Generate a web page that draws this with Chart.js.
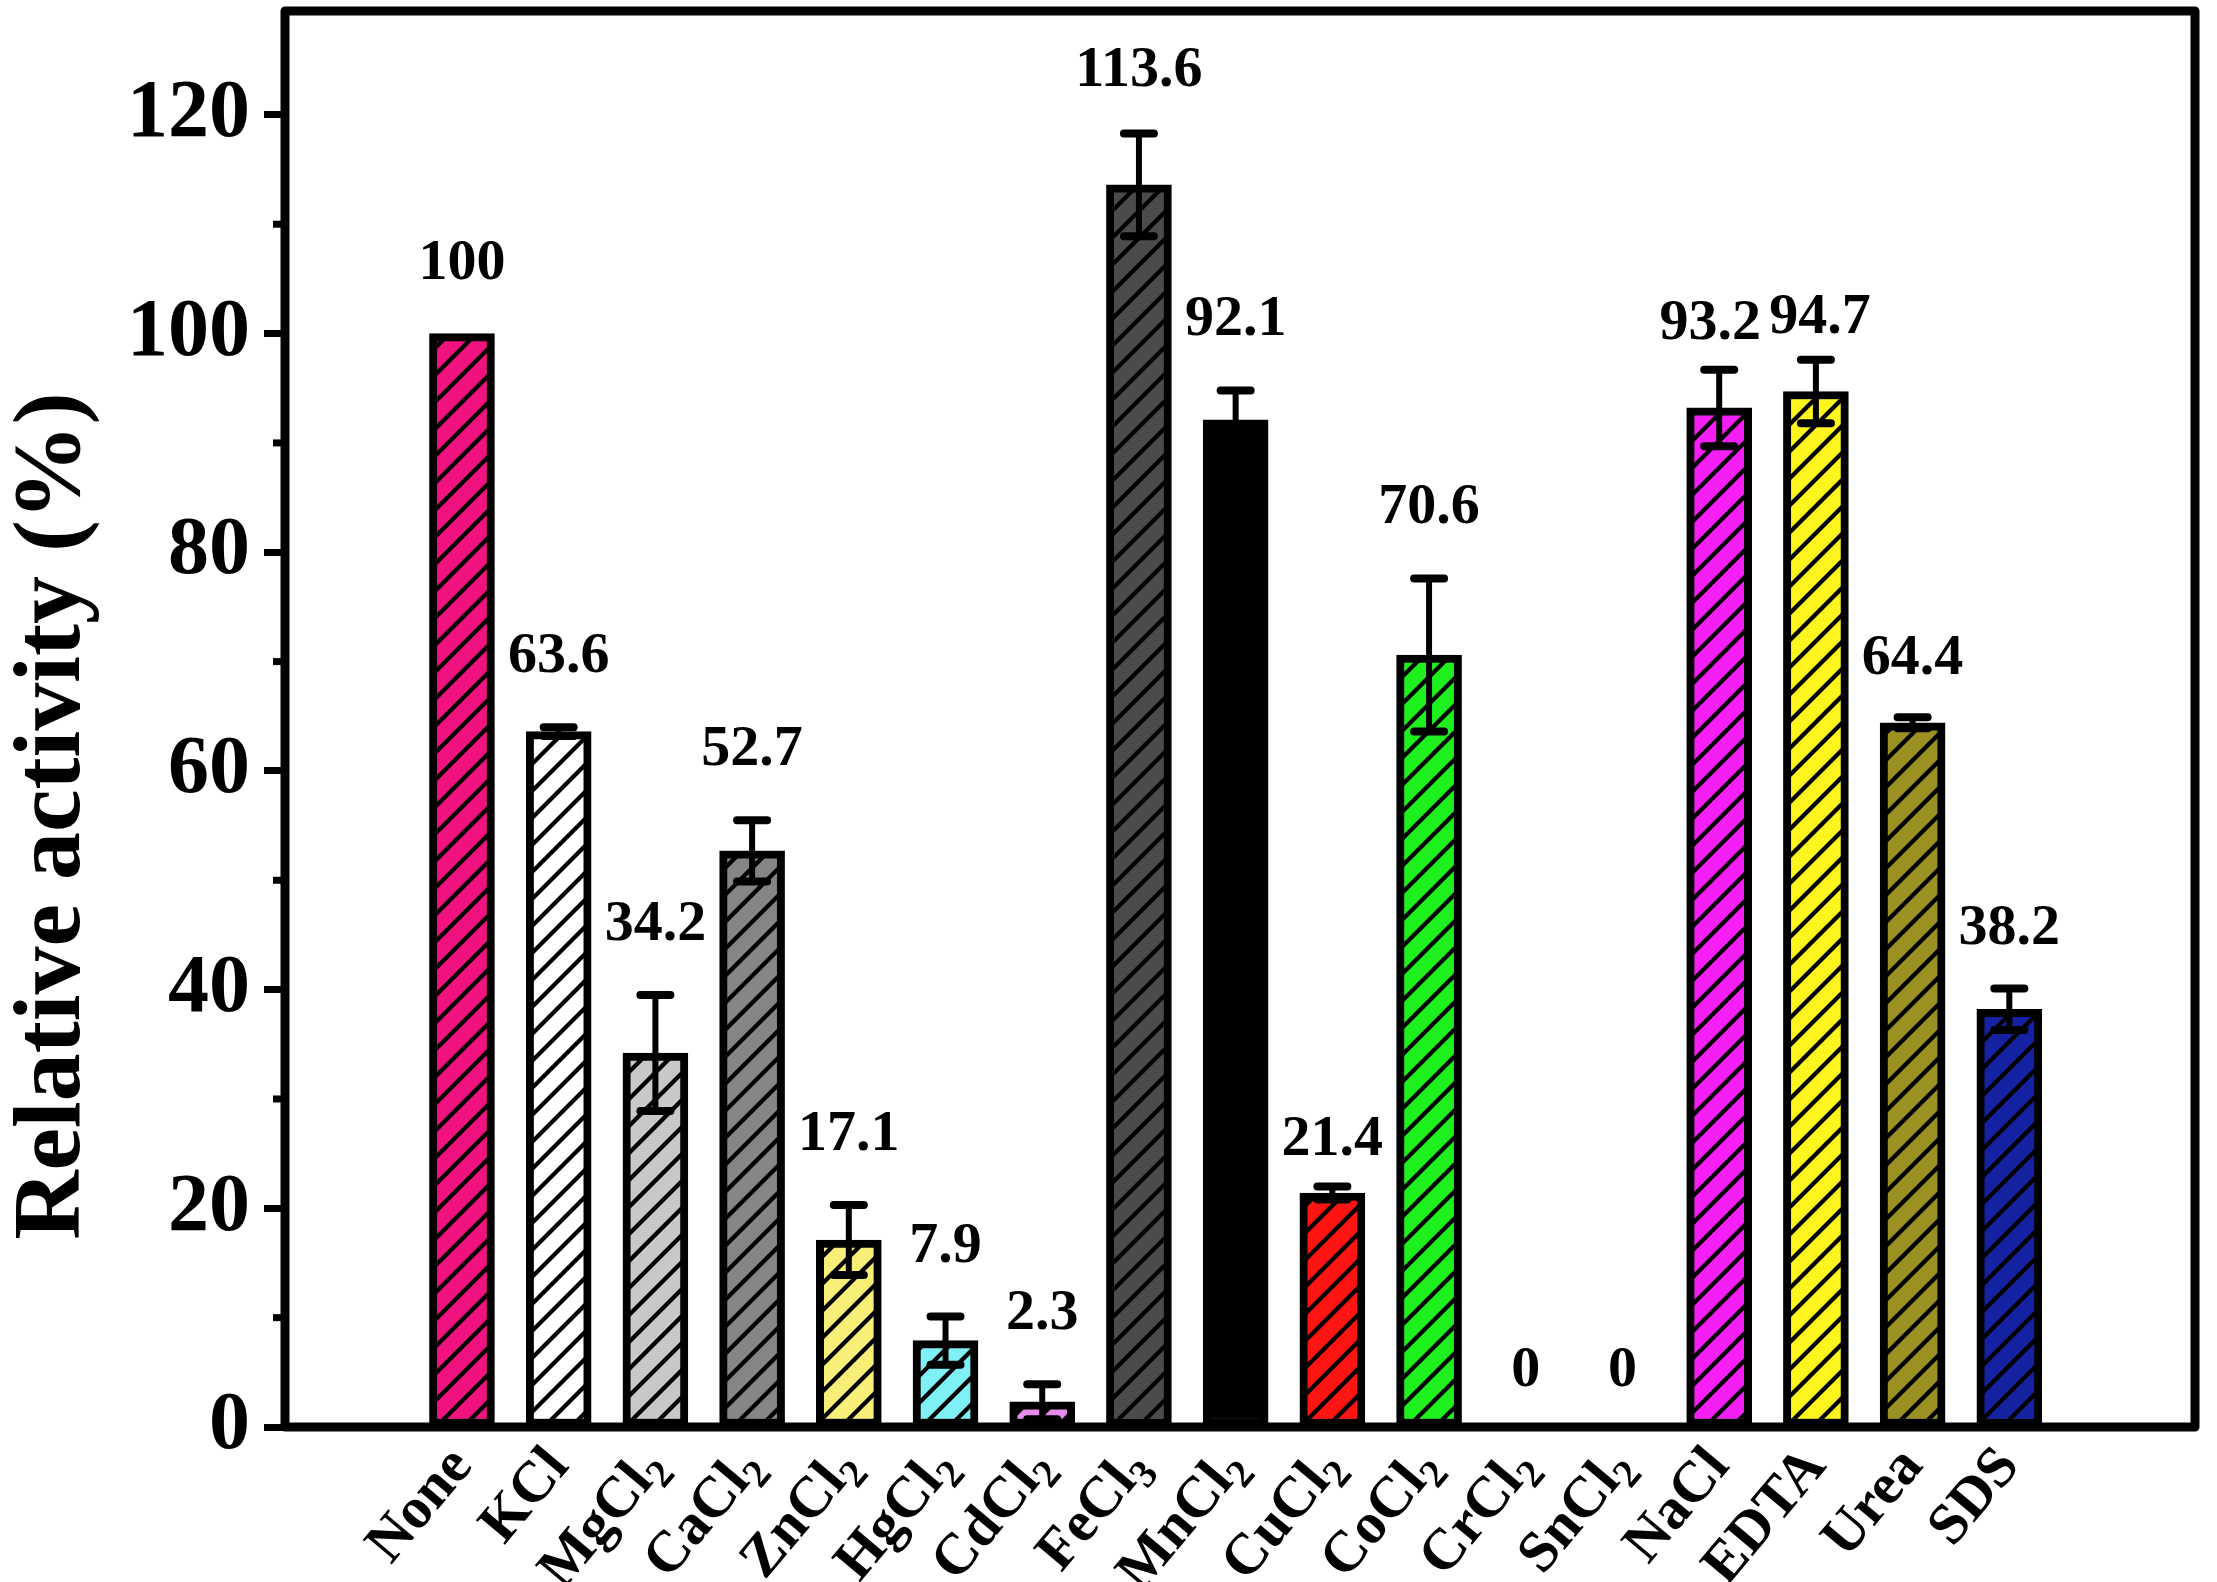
<!DOCTYPE html>
<html>
<head>
<meta charset="utf-8">
<script src="https://cdn.jsdelivr.net/npm/chart.js@4.4.1/dist/chart.umd.min.js"></script>
<style>
html,body{margin:0;padding:0;background:#fff;}
#wrap{width:2217px;height:1582px;}
</style>
</head>
<body>
<div id="wrap"><canvas id="c" width="2217" height="1582"></canvas></div>
<script>
const categories = ['None','KCl','MgCl2','CaCl2','ZnCl2','HgCl2','CdCl2','FeCl3','MnCl2','CuCl2','CoCl2','CrCl2','SnCl2','NaCl','EDTA','Urea','SDS'];
const values = [100, 63.6, 34.2, 52.7, 17.1, 7.9, 2.3, 113.6, 92.1, 21.4, 70.6, 0, 0, 93.2, 94.7, 64.4, 38.2];
const errors = [0, 0.4, 5.3, 2.8, 3.2, 2.2, 1.6, 4.7, 2.7, 0.6, 7.0, 0, 0, 3.5, 2.9, 0.5, 1.9];
const colors = ['#F0127E','#FFFFFF','#C8C8C8','#858585','#F8EF78','#7FF0F5','#E58CEB','#4B4B4B','#000000','#FF1414','#1EF01E','#FFFFFF','#FFFFFF','#F51EF5','#FFF51E','#9B9123','#1421A0'];
const hatched = [true,true,true,true,true,true,true,true,false,true,true,true,true,true,true,true,true];
const yTickValues = [0, 20, 40, 60, 80, 100, 120];
const yMinorValues = [10, 30, 50, 70, 90, 110];
const yTitle = 'Relative activity (%)';

// layout-only tweaks for hand-placed value labels in the original (pixels)
const labelNudge = { NaCl: [-9, 24], EDTA: [4, 28], CuCl2: [0, 24], CrCl2: [0, 14], SnCl2: [0, 14], FeCl3: [0, 8], Urea: [0, 12], SDS: [0, 10] };

const SERIF = '"Liberation Serif", "Times New Roman", serif';

function makePattern(color) {
  const W = 27, H = 27;
  const c = document.createElement('canvas');
  c.width = W; c.height = H;
  const g = c.getContext('2d');
  g.fillStyle = color;
  g.fillRect(0, 0, W, H);
  g.strokeStyle = '#000';
  g.lineWidth = 4.2;
  for (let k = -1; k <= 1; k++) {
    g.beginPath();
    g.moveTo(-2, H + 2 * H / W + k * H);
    g.lineTo(W + 2, -2 * H / W + k * H);
    g.stroke();
  }
  return g.createPattern(c, 'repeat');
}

const fills = colors.map((col, i) => hatched[i] ? makePattern(col) : col);

const decorPlugin = {
  id: 'decor',
  afterDatasetsDraw(chart) {
    const ctx = chart.ctx;
    const xs = chart.scales.x, ys = chart.scales.y;
    const area = chart.chartArea;
    ctx.save();
    // error bars
    ctx.strokeStyle = '#000';
    ctx.lineCap = 'round';
    values.forEach((v, i) => {
      const e = errors[i];
      if (!e) return;
      const x = xs.getPixelForValue(i);
      const yt = ys.getPixelForValue(v + e);
      const yb = ys.getPixelForValue(v - e);
      ctx.lineWidth = 6;
      ctx.beginPath();
      ctx.moveTo(x, yt); ctx.lineTo(x, yb);
      ctx.stroke();
      ctx.lineWidth = 8;
      ctx.beginPath();
      ctx.moveTo(x - 15, yt); ctx.lineTo(x + 15, yt);
      ctx.moveTo(x - 15, yb); ctx.lineTo(x + 15, yb);
      ctx.stroke();
    });
    // frame
    ctx.lineCap = 'butt';
    ctx.lineJoin = 'round';
    ctx.lineWidth = 9;
    ctx.strokeRect(area.left, area.top, area.right - area.left, area.bottom - area.top);
    // minor ticks
    ctx.lineWidth = 7;
    yMinorValues.forEach(v => {
      const y = ys.getPixelForValue(v);
      ctx.beginPath();
      ctx.moveTo(area.left - 12, y); ctx.lineTo(area.left, y);
      ctx.stroke();
    });
    // value labels
    ctx.fillStyle = '#000';
    ctx.font = 'bold 58px ' + SERIF;
    ctx.textAlign = 'center';
    ctx.textBaseline = 'middle';
    values.forEach((v, i) => {
      const nd = labelNudge[categories[i]] || [0, 0];
      const x = xs.getPixelForValue(i) + nd[0];
      const y = ys.getPixelForValue(v + errors[i]) - 70 + nd[1];
      ctx.fillText(String(v), x, y);
    });
    // category labels (rotated, with subscripts)
    const mainFont = 'bold 58px ' + SERIF;
    const subFont = 'bold 40px ' + SERIF;
    categories.forEach((cat, i) => {
      const m = cat.match(/^(.*?)(\d)$/);
      const main = m ? m[1] : cat;
      const sub = m ? m[2] : '';
      const x = xs.getPixelForValue(i) - 2;
      const y = area.bottom + 28;
      ctx.save();
      ctx.translate(x, y);
      ctx.rotate(-50 * Math.PI / 180);
      ctx.textAlign = 'left';
      ctx.textBaseline = 'alphabetic';
      ctx.font = subFont;
      const ws = sub ? ctx.measureText(sub).width : 0;
      ctx.font = mainFont;
      const wm = ctx.measureText(main).width;
      const total = wm + ws;
      ctx.fillText(main, -total, 18);
      if (sub) {
        ctx.font = subFont;
        ctx.fillText(sub, -ws, 30);
      }
      ctx.restore();
    });
    // y title
    ctx.save();
    ctx.translate(54, 816);
    ctx.rotate(-Math.PI / 2);
    ctx.font = 'bold 96px ' + SERIF;
    ctx.textAlign = 'center';
    ctx.textBaseline = 'middle';
    ctx.fillText(yTitle, 0, 0);
    ctx.restore();
    ctx.restore();
  }
};

new Chart(document.getElementById('c'), {
  type: 'bar',
  data: {
    datasets: [{
      data: categories.map((c, i) => ({ x: i, y: values[i] })),
      backgroundColor: fills,
      borderColor: '#000',
      borderWidth: 8,
      borderSkipped: false,
      barThickness: 65
    }]
  },
  options: {
    responsive: false,
    animation: false,
    devicePixelRatio: 1,
    layout: { padding: { left: 0, top: 11, right: 22, bottom: 155 } },
    plugins: { legend: { display: false }, tooltip: { enabled: false } },
    scales: {
      x: { type: 'linear', min: -1.83, max: 17.92, offset: false, display: false },
      y: {
        min: 0, max: 129.5,
        afterBuildTicks: s => { s.ticks = yTickValues.map(v => ({ value: v })); },
        afterFit: s => { s.width = 285; s.paddingTop = 0; s.paddingBottom = 0; },
        ticks: { font: { family: SERIF, weight: 'bold', size: 82 }, color: '#000', padding: 14 },
        grid: { drawOnChartArea: false, tickLength: 21, tickWidth: 7, tickColor: '#000' },
        border: { display: false }
      }
    }
  },
  plugins: [decorPlugin]
});
</script>
</body>
</html>
